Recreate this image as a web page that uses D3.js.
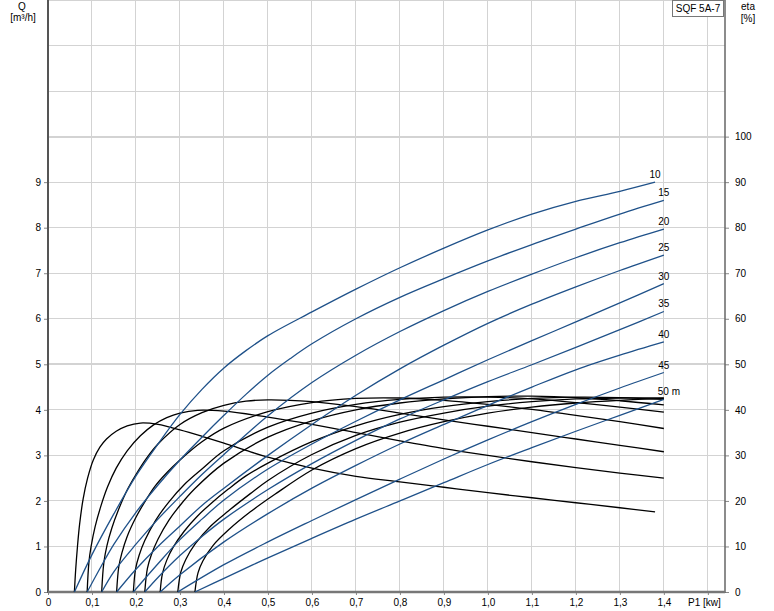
<!DOCTYPE html>
<html><head><meta charset="utf-8">
<script src="https://cdn.jsdelivr.net/npm/d3@7"></script>
<style>
body{margin:0;background:#fff;}
svg{display:block;font-family:"Liberation Sans",Arial,sans-serif;}
</style></head>
<body><svg id="c" width="774" height="611"></svg>
<script>
// ---- data ----
const heads = [10, 15, 20, 25, 30, 35, 40, 45, 50];
const headLabels = ["10", "15", "20", "25", "30", "35", "40", "45", "50 m"];
const xTicks = [0,0.1,0.2,0.3,0.4,0.5,0.6,0.7,0.8,0.9,1.0,1.1,1.2,1.3,1.4];
const xTickLabels = ["0","0,1","0,2","0,3","0,4","0,5","0,6","0,7","0,8","0,9","1,0","1,1","1,2","1,3","1,4"];
const qTicks = [0,1,2,3,4,5,6,7,8,9];
const etaTicks = [0,10,20,30,40,50,60,70,80,90,100];

// Flow Q [m3/h] vs P1 [kW], one per head
const q10 = [[0.06,0],[0.1,0.82],[0.15,1.72],[0.2,2.55],[0.25,3.25],[0.3,3.9],[0.35,4.45],[0.4,4.92],[0.45,5.3],[0.5,5.63],[0.6,6.15],[0.7,6.65],[0.8,7.12],[0.9,7.55],[1.0,7.95],[1.1,8.3],[1.2,8.58],[1.3,8.8],[1.38,9.0]];
const q15 = [[0.089,0],[0.12,0.55],[0.15,1.05],[0.2,1.75],[0.25,2.35],[0.3,2.9],[0.35,3.4],[0.4,3.88],[0.45,4.34],[0.5,4.76],[0.55,5.12],[0.6,5.45],[0.7,6.0],[0.8,6.47],[0.9,6.88],[1.0,7.27],[1.1,7.63],[1.2,7.97],[1.3,8.3],[1.4,8.6]];
const q20 = [[0.122,0],[0.15,0.45],[0.2,1.05],[0.25,1.6],[0.3,2.1],[0.35,2.58],[0.4,3.02],[0.5,3.87],[0.6,4.6],[0.7,5.2],[0.8,5.72],[0.9,6.18],[1.0,6.6],[1.1,6.98],[1.2,7.34],[1.3,7.67],[1.4,7.97]];
const q25 = [[0.156,0],[0.2,0.5],[0.25,1.0],[0.3,1.45],[0.35,1.9],[0.4,2.28],[0.5,3.0],[0.6,3.68],[0.7,4.32],[0.8,4.9],[0.9,5.42],[1.0,5.9],[1.1,6.32],[1.2,6.7],[1.3,7.06],[1.4,7.4]];
const q30 = [[0.194,0],[0.25,0.62],[0.3,1.15],[0.35,1.6],[0.4,2.02],[0.5,2.7],[0.6,3.25],[0.7,3.75],[0.8,4.22],[0.9,4.66],[1.0,5.1],[1.1,5.52],[1.2,5.93],[1.3,6.35],[1.4,6.77]];
const q35 = [[0.22,0],[0.25,0.32],[0.3,0.8],[0.35,1.22],[0.4,1.6],[0.5,2.25],[0.6,2.82],[0.7,3.33],[0.8,3.8],[0.9,4.22],[1.0,4.62],[1.1,4.99],[1.2,5.37],[1.3,5.76],[1.4,6.16]];
const q40 = [[0.255,0],[0.3,0.38],[0.4,1.1],[0.5,1.72],[0.6,2.28],[0.7,2.78],[0.8,3.25],[0.9,3.68],[1.0,4.1],[1.1,4.5],[1.2,4.88],[1.3,5.2],[1.4,5.49]];
const q45 = [[0.295,0],[0.4,0.6],[0.5,1.1],[0.6,1.57],[0.7,2.03],[0.8,2.48],[0.9,2.92],[1.0,3.34],[1.1,3.74],[1.2,4.12],[1.3,4.48],[1.4,4.82]];
const q50 = [[0.334,0],[0.4,0.3],[0.5,0.75],[0.6,1.18],[0.7,1.6],[0.8,2.0],[0.9,2.4],[1.0,2.8],[1.1,3.17],[1.2,3.53],[1.3,3.88],[1.4,4.23]];
const qCurves = [q10, q15, q20, q25, q30, q35, q40, q45, q50];

// Efficiency eta [%] vs P1 [kW], one per head
const e10 = [[0.06,0],[0.063,5],[0.067,10],[0.072,15],[0.08,20.5],[0.09,25],[0.103,29],[0.118,31.8],[0.133,33.6],[0.155,35.3],[0.18,36.5],[0.21,37.1],[0.25,36.8],[0.3,35.6],[0.35,34.2],[0.4,32.7],[0.45,31.1],[0.5,29.6],[0.6,27.2],[0.7,25.4],[0.8,24.2],[0.9,23.0],[1.0,21.8],[1.1,20.7],[1.2,19.6],[1.3,18.5],[1.38,17.6]];
const e15 = [[0.089,0],[0.093,6.5],[0.098,10],[0.107,14.3],[0.12,18.8],[0.135,23],[0.155,27.2],[0.18,31],[0.21,34.3],[0.24,36.7],[0.27,38.3],[0.3,39.3],[0.34,39.9],[0.4,39.7],[0.5,38.4],[0.6,36.8],[0.7,35.0],[0.8,33.2],[0.9,31.5],[1.0,30.0],[1.1,28.6],[1.2,27.3],[1.3,26.1],[1.4,25.0]];
const e20 = [[0.122,0],[0.127,6.5],[0.134,10.2],[0.145,14],[0.16,18],[0.18,22.4],[0.2,25.8],[0.225,29.5],[0.25,32.5],[0.3,36.8],[0.35,39.4],[0.4,41],[0.45,41.9],[0.5,42.2],[0.6,41.8],[0.7,40.7],[0.8,39.3],[0.9,37.8],[1.0,36.4],[1.1,35],[1.2,33.6],[1.3,32.2],[1.4,30.8]];
const e25 = [[0.156,0],[0.161,5.6],[0.168,8.6],[0.18,12.2],[0.2,16.4],[0.22,19.8],[0.243,23.2],[0.27,26.2],[0.3,29],[0.35,33],[0.4,36],[0.5,39.6],[0.6,41.6],[0.7,42.5],[0.8,42.6],[0.9,42.1],[1.0,41.2],[1.1,40.1],[1.2,38.8],[1.3,37.4],[1.4,35.9]];
const e30 = [[0.194,0],[0.199,5],[0.207,8],[0.22,11.3],[0.245,15.8],[0.275,19.8],[0.31,23.6],[0.35,27],[0.4,31],[0.5,36.2],[0.6,39.3],[0.7,41.2],[0.8,42.3],[0.9,42.8],[1.0,42.8],[1.1,42.4],[1.2,41.6],[1.3,40.6],[1.4,39.5]];
const e35 = [[0.22,0],[0.226,5.2],[0.235,8.2],[0.25,11.6],[0.275,15.8],[0.3,19],[0.333,22.6],[0.4,28.3],[0.5,34],[0.6,37.6],[0.7,40],[0.8,41.5],[0.9,42.4],[1.0,42.9],[1.1,43],[1.2,42.7],[1.3,42],[1.4,41.1]];
const e40 = [[0.255,0],[0.26,4],[0.27,7],[0.285,9.9],[0.31,13.4],[0.34,16.7],[0.37,19.4],[0.41,22.6],[0.45,25.5],[0.5,28.3],[0.6,33],[0.7,36.5],[0.8,39],[0.9,40.7],[1.0,41.8],[1.1,42.5],[1.2,42.8],[1.3,42.7],[1.4,42.3]];
const e45 = [[0.295,0],[0.302,4.4],[0.313,7.1],[0.335,10.6],[0.37,14.5],[0.41,17.8],[0.46,21.6],[0.5,24.5],[0.6,30.2],[0.7,34.4],[0.8,37.3],[0.9,39.3],[1.0,40.8],[1.1,41.8],[1.2,42.4],[1.3,42.6],[1.4,42.6]];
const e50 = [[0.334,0],[0.341,4.2],[0.352,6.8],[0.375,10.2],[0.41,13.6],[0.46,17.6],[0.515,21.4],[0.6,26.8],[0.7,31.5],[0.8,34.9],[0.9,37.4],[1.0,39.3],[1.1,40.6],[1.2,41.5],[1.3,42.1],[1.4,42.5]];
const etaCurves = [e10, e15, e20, e25, e30, e35, e40, e45, e50];

// ---- drawing ----
const svg = d3.select("#c");
const L = 48, R = 725, T = 0, B = 592;
const x = d3.scaleLinear().domain([0, 1.539]).range([L, R]);
const yQ = d3.scaleLinear().domain([0, 13]).range([B, T]);
const yE = d3.scaleLinear().domain([0, 130]).range([B, T]);

const grid = svg.append("g");
d3.range(1, 16).forEach(i => {
  const xv = x(i / 10);
  grid.append("line").attr("x1", xv).attr("x2", xv).attr("y1", T).attr("y2", B)
    .attr("stroke", "#d3d3d3").attr("stroke-width", 1).attr("shape-rendering", "crispEdges");
});
d3.range(1, 14).forEach(i => {
  const yv = yQ(i);
  grid.append("line").attr("x1", L).attr("x2", R).attr("y1", yv).attr("y2", yv)
    .attr("stroke", "#d3d3d3").attr("stroke-width", (i === 5 || i === 10) ? 2 : 1)
    .attr("shape-rendering", "crispEdges");
});

const axL = svg.append("g").attr("transform", `translate(${L},0)`)
  .call(d3.axisLeft(yQ).tickValues(qTicks).tickSize(4).tickPadding(3).tickFormat(d3.format("d")));
const axR = svg.append("g").attr("transform", `translate(${R},0)`)
  .call(d3.axisRight(yE).tickValues(etaTicks).tickSize(4).tickPadding(6).tickFormat(d3.format("d")));
const axB = svg.append("g").attr("transform", `translate(0,${B})`)
  .call(d3.axisBottom(x).tickValues(xTicks.concat([1.5])).tickSize(4).tickPadding(3)
    .tickFormat((d, i) => i < xTickLabels.length ? xTickLabels[i] : ""));
[axL, axR, axB].forEach(a => {
  a.select(".domain").remove();
  a.selectAll(".tick line").attr("stroke", "#888");
  a.selectAll(".tick text").attr("font-size", 10).attr("fill", "#000")
    .attr("font-family", "'Liberation Sans', Arial, sans-serif");
});
axB.selectAll(".tick line").attr("y2", 3);
svg.append("line").attr("x1", L).attr("x2", L).attr("y1", T).attr("y2", B + 1)
  .attr("stroke", "#555").attr("stroke-width", 2);
svg.append("line").attr("x1", R).attr("x2", R).attr("y1", T).attr("y2", B + 1)
  .attr("stroke", "#666").attr("stroke-width", 1.5);
svg.append("line").attr("x1", L).attr("x2", R).attr("y1", B).attr("y2", B)
  .attr("stroke", "#777").attr("stroke-width", 2.5);

const line = (ys) => d3.line().x(d => x(d[0])).y(d => ys(d[1])).curve(d3.curveCatmullRom.alpha(0.5));

svg.append("g").selectAll("path").data(etaCurves).join("path")
  .attr("d", d => line(yE)(d)).attr("fill", "none").attr("stroke", "#000").attr("stroke-width", 1.3);
svg.append("g").selectAll("path").data(qCurves).join("path")
  .attr("d", d => line(yQ)(d)).attr("fill", "none").attr("stroke", "#1f5189").attr("stroke-width", 1.3);

svg.append("g").selectAll("text").data(qCurves).join("text")
  .attr("x", (d, i) => x(d[d.length - 1][0]) + (i === 8 ? 5 : 0))
  .attr("y", d => yQ(d[d.length - 1][1]) - 4)
  .attr("text-anchor", "middle").attr("font-size", 10).attr("fill", "#000")
  .text((d, i) => headLabels[i]);

const title = (t, xx, yy, anchor) => svg.append("text").attr("x", xx).attr("y", yy)
  .attr("text-anchor", anchor || "middle").attr("font-size", 10).attr("fill", "#000").text(t);
title("Q", 22, 10);
title("[m³/h]", 23, 21);
title("eta", 748, 10);
title("[%]", 748, 22);
title("P1 [kw]", 688, 606, "start");

svg.append("rect").attr("x", 672.5).attr("y", 0.5).attr("width", 51).attr("height", 16)
  .attr("fill", "#fff").attr("stroke", "#777");
title("SQF 5A-7", 698, 12);
</script></body></html>
